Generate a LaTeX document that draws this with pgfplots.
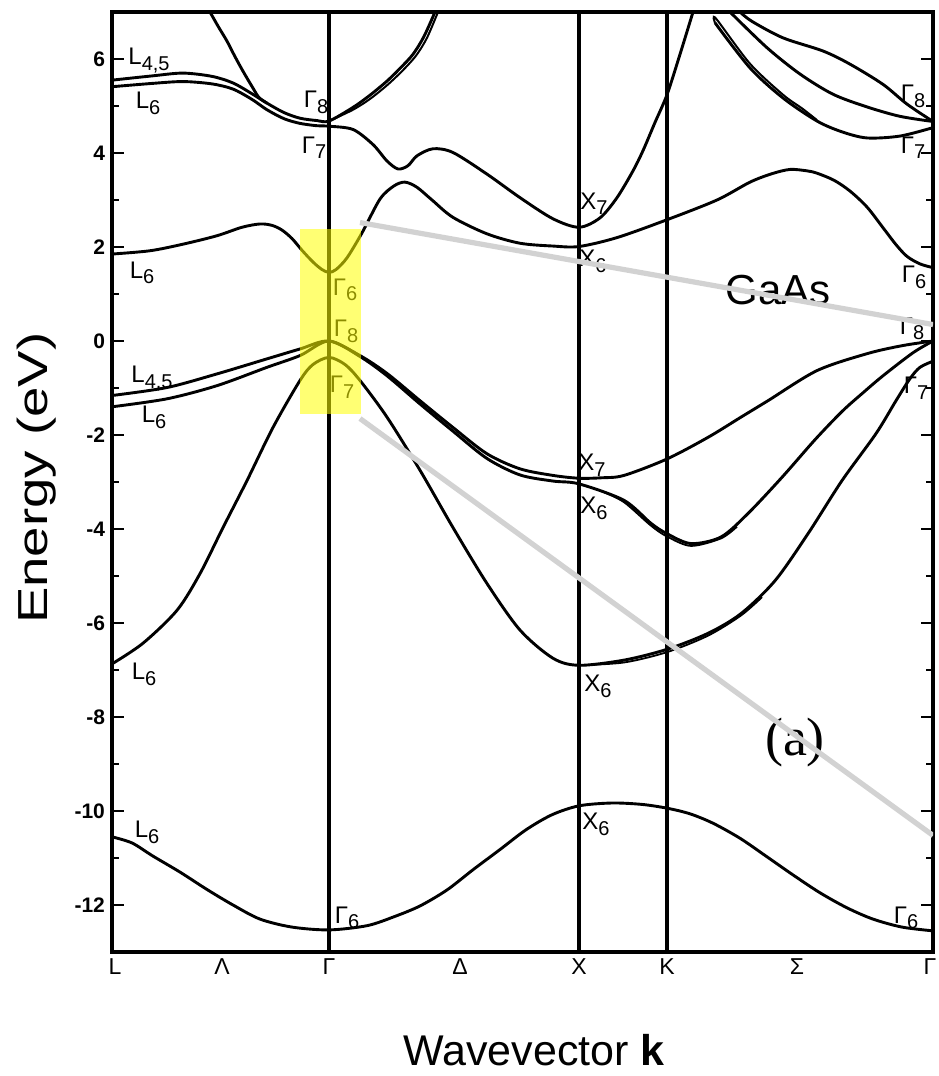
\documentclass[border=0pt]{standalone}
\usepackage{fontspec}
\setmainfont{Liberation Sans}
\newfontfamily\seriffont{Liberation Serif}
\usepackage{graphicx}
\usepackage{pgfplots}
\pgfplotsset{compat=1.18}

\definecolor{hl}{RGB}{255,255,0}
\definecolor{guide}{RGB}{210,210,210}

% band label: letter with lowered subscript
\newcommand{\st}[2]{#1\raisebox{-0.45ex}{\fontsize{10}{10}\selectfont #2}}

\tikzset{
  band/.style={black, line width=1.45pt, smooth},
  kline/.style={black, line width=1.6pt},
  bl/.style={font=\fontsize{12}{12}\selectfont, inner sep=0pt},
}

\begin{document}
\begin{tikzpicture}
\useasboundingbox (-56pt,-62pt) rectangle (413pt,476pt);
\begin{axis}[
  scale only axis, width=410.5pt, height=470pt,
  xmin=0, xmax=821, ymin=-13, ymax=7,
  axis line style={line width=2.1pt},
  xtick={3,110,217,348,467,555,685,818},
  xticklabels={L,Λ,Γ,Δ,X,K,Σ,Γ},
  xtick style={draw=none},
  xticklabel style={font=\fontsize{11.5}{11.5}\selectfont},
  ytick={-12,-10,...,6},
  yticklabels={-12,-10,-8,-6,-4,-2,0,2,4,6},
  minor ytick={-11,-9,...,5},
  ytick pos=both,
  ytick style={line width=1.3pt, black},
  major tick length=6pt, minor tick length=3.5pt,
  yticklabel style={font=\fontsize{10.5}{10.5}\selectfont\bfseries},
  ylabel={\scalebox{1.3}[1]{Energy (eV)}},
  ylabel style={font=\fontsize{21}{21}\selectfont, at={(axis description cs:-0.0914,0.504)}, anchor=center},
  xlabel={Wavevector \textbf{k}},
  xlabel style={font=\fontsize{21.5}{21.5}\selectfont, at={(axis description cs:0.514,-0.104)}, anchor=center},
]

% symmetry lines
\addplot[kline] coordinates {(217,-13) (217,7)};
\addplot[kline] coordinates {(467,-13) (467,7)};
\addplot[kline] coordinates {(555,-13) (555,7)};

% lowest valence band
\addplot[band] coordinates {(0,-10.55) (20,-10.68) (41,-10.96) (68,-11.3) (95,-11.67) (121,-12.0) (148,-12.30) (180,-12.47) (217,-12.53) (255,-12.44) (282,-12.25) (308,-12.02) (335,-11.68) (361,-11.25) (388,-10.82) (414,-10.40) (440,-10.08) (467,-9.89) (500,-9.83) (530,-9.86) (555,-9.94) (578,-10.06) (601,-10.26) (628,-10.58) (654,-10.96) (681,-11.36) (708,-11.74) (735,-12.06) (761,-12.30) (790,-12.47) (821,-12.55)};

% split-off / L6 band
\addplot[band] coordinates {(0,-6.87) (31,-6.43) (65,-5.73) (88,-4.95) (111,-3.97) (135,-2.97) (161,-1.84) (188,-0.84) (201,-0.50) (217,-0.35) (233,-0.50) (248,-0.84) (275,-1.62) (308,-2.75) (341,-3.97) (375,-5.16) (408,-6.15) (441,-6.75) (467,-6.90) (512,-6.79) (555,-6.56) (596,-6.22) (629,-5.80) (663,-5.10) (696,-4.10) (730,-2.97) (764,-1.97) (784,-1.27) (798,-0.80) (808,-0.56) (821,-0.43)};
\addplot[band, line width=0.9pt] coordinates {(467,-6.90) (512,-6.84) (555,-6.62) (596,-6.27) (629,-5.84) (650,-5.45)};

% light hole / X6 band
\addplot[band] coordinates {(0,-1.40) (55,-1.23) (105,-0.95) (155,-0.56) (188,-0.31) (217,0) (248,-0.33) (275,-0.74) (308,-1.34) (341,-1.92) (375,-2.50) (408,-2.85) (441,-2.98) (467,-3.04) (512,-3.39) (539,-3.88) (555,-4.10) (579,-4.31) (609,-4.17) (636,-3.67) (670,-2.90) (703,-2.10) (730,-1.50) (750,-1.12) (771,-0.74) (801,-0.25) (821,0)};
\addplot[band, line width=0.9pt] coordinates {(490,-3.20) (512,-3.43) (539,-3.93) (555,-4.16) (579,-4.36) (609,-4.20) (625,-3.95)};

% heavy hole / X7 band
\addplot[band] coordinates {(0,-1.16) (55,-0.99) (105,-0.70) (155,-0.38) (188,-0.17) (217,0) (248,-0.31) (275,-0.69) (308,-1.27) (341,-1.84) (375,-2.40) (408,-2.72) (441,-2.86) (467,-2.92) (490,-2.91) (512,-2.86) (555,-2.51) (596,-2.05) (629,-1.62) (656,-1.27) (705,-0.63) (755,-0.27) (790,-0.10) (821,0)};

% lowest conduction band
\addplot[band] coordinates {(0,1.85) (38,1.92) (71,2.06) (105,2.24) (130,2.42) (148,2.49) (160,2.46) (170,2.36) (180,2.18) (190,1.93) (201,1.68) (210,1.52) (217,1.46) (224,1.52) (235,1.77) (250,2.30) (268,3.02) (282,3.30) (293,3.38) (305,3.27) (320,3.00) (341,2.63) (375,2.28) (408,2.08) (441,2.02) (467,2.01) (505,2.20) (555,2.58) (605,3.00) (638,3.38) (660,3.56) (678,3.65) (695,3.62) (705,3.57) (722,3.42) (738,3.19) (755,2.85) (771,2.41) (784,2.05) (795,1.80) (808,1.64) (821,1.56)};

% second conduction band (L6 -> Gamma7 -> X7)
\addplot[band] coordinates {(0,5.41) (40,5.48) (71,5.52) (100,5.47) (121,5.36) (140,5.14) (155,4.92) (172,4.73) (188,4.63) (205,4.58) (217,4.57) (241,4.50) (261,4.18) (275,3.83) (286,3.66) (296,3.73) (305,3.94) (321,4.09) (341,4.01) (375,3.55) (408,3.05) (441,2.60) (467,2.42) (488,2.62) (505,3.05) (521,3.62) (531,4.05) (543,4.65) (555,5.24) (568,6.10) (581,7.0)};

% L4,5 conduction -> Gamma8 -> up
\addplot[band] coordinates {(0,5.55) (40,5.64) (71,5.70) (100,5.63) (121,5.49) (140,5.26) (155,5.06) (172,4.86) (188,4.74) (205,4.69) (217,4.68) (241,4.97) (258,5.23) (275,5.53) (288,5.80) (301,6.10) (312,6.48) (323,7.0)};
\addplot[band, line width=1.0pt] coordinates {(217,4.68) (241,4.92) (258,5.15) (275,5.44) (290,5.74) (304,6.07) (315,6.45) (326,7.0)};
\addplot[band] coordinates {(98,7.0) (106,6.7) (115,6.38) (123,6.05) (131,5.74) (141,5.38) (147,5.18) (155,5.06)};

% Sigma upper bands
\addplot[band] coordinates {(628,7.0) (640,6.8) (671,6.45) (711,6.17) (738,5.89) (771,5.46) (795,5.04) (821,4.67)};
\addplot[band] coordinates {(618,7.0) (655,6.24) (688,5.68) (721,5.25) (755,4.98) (788,4.78) (821,4.67)};
\addplot[band] coordinates {(603,6.77) (638,5.81) (671,5.17) (705,4.68) (730,4.45) (755,4.32) (788,4.36) (821,4.54)};
\addplot[band, line width=1.0pt] coordinates {(603,6.77) (604,6.86) (638,5.90) (671,5.24) (690,4.95) (705,4.70)};

% labels
\node[bl] at (axis cs:37,5.96) {\st{L}{4,5}};
\node[bl] at (axis cs:36,5.06) {\st{L}{6}};
\node[bl] at (axis cs:204,5.08) {\st{Γ}{8}};
\node[bl] at (axis cs:202,4.11) {\st{Γ}{7}};
\node[bl] at (axis cs:30,1.45) {\st{L}{6}};
\node[bl] at (axis cs:233,1.09) {\st{Γ}{6}};
\node[bl] at (axis cs:234,0.2) {\st{Γ}{8}};
\node[bl] at (axis cs:230,-0.99) {\st{Γ}{7}};
\node[bl] at (axis cs:40,-0.8) {\st{L}{4,5}};
\node[bl] at (axis cs:42,-1.63) {\st{L}{6}};
\node[bl] at (axis cs:32,-7.09) {\st{L}{6}};
\node[bl] at (axis cs:35,-10.45) {\st{L}{6}};
\node[bl] at (axis cs:235,-12.27) {\st{Γ}{6}};
\node[bl] at (axis cs:484,-10.28) {\st{X}{6}};
\node[bl] at (axis cs:794,-12.27) {\st{Γ}{6}};
\node[bl] at (axis cs:486,-7.35) {\st{X}{6}};
\node[bl] at (axis cs:480,-2.65) {\st{X}{7}};
\node[bl] at (axis cs:482,-3.56) {\st{X}{6}};
\node[bl] at (axis cs:482,2.92) {\st{X}{7}};
\node[bl] at (axis cs:481,1.69) {\st{X}{6}};
\node[bl] at (axis cs:801,5.21) {\st{Γ}{8}};
\node[bl] at (axis cs:801,4.11) {\st{Γ}{7}};
\node[bl] at (axis cs:802,1.35) {\st{Γ}{6}};
\node[bl] at (axis cs:800,0.26) {\st{Γ}{8}};
\node[bl] at (axis cs:804,-1.0) {\st{Γ}{7}};

\node[font=\fontsize{21}{21}\selectfont, inner sep=0pt] at (axis cs:666,1.09) {GaAs};
\node[font=\seriffont\fontsize{27}{27}\selectfont, inner sep=0pt] at (axis cs:683,-8.54) {(a)};

% guide lines and highlight
\addplot[guide, line width=2.6pt] coordinates {(248,2.52) (821,0.35)};
\addplot[guide, line width=2.6pt] coordinates {(248,-1.65) (821,-10.52)};
\addplot[draw=none, fill=hl, fill opacity=0.55] coordinates {(188,-1.56) (249,-1.56) (249,2.39) (188,2.39)} --cycle;
\end{axis}
\end{tikzpicture}
\end{document}
